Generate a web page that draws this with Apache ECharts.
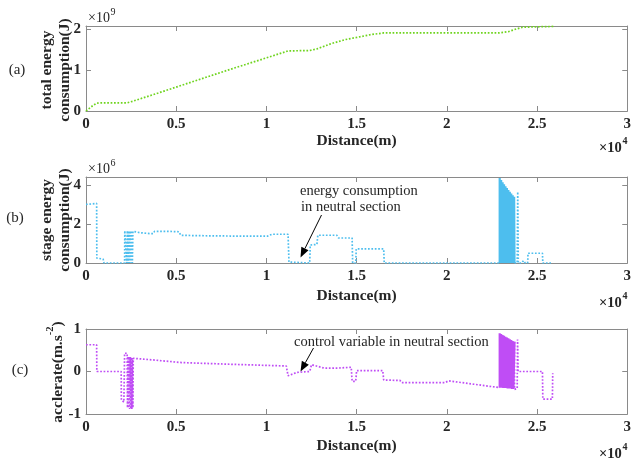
<!DOCTYPE html>
<html><head><meta charset="utf-8">
<script src="https://cdn.jsdelivr.net/npm/echarts@6/dist/echarts.min.js"></script>
<style>html,body{margin:0;padding:0;background:#fff}#c{width:634px;height:461px}</style>
</head><body><div id="c"></div>
<script>
// ---------------- DATA ----------------
const xTickLabels = ['0', '0.5', '1', '1.5', '2', '2.5', '3']; // ×10^4 m

// (a) total energy consumption, [distance m, energy ×10^9 J]
const totalEnergy = [
  [0,0],[200,0.07],[400,0.14],[590,0.19],[800,0.2],[2300,0.2],[2600,0.24],[4000,0.44],
  [6000,0.73],[8000,1.02],[10000,1.3],[11200,1.47],[12400,1.48],[12800,1.52],[13600,1.65],
  [14400,1.75],[15000,1.8],[15800,1.87],[16500,1.91],[22900,1.91],[23400,1.94],[23800,2.0],
  [24200,2.05],[25000,2.06],[25900,2.07]
];

// (b) stage energy consumption, [distance m, energy ×10^6 J]
const stageBefore = [
  [0,3.0],[300,3.02],[590,3.05],[600,0.25],[950,0.2],[1000,0],[2140,0],[2150,1.65],[2240,1.7],
  [2250,0],[2290,1.65],[2330,0],[2370,1.65],[2410,0],[2450,1.65],[2490,0],[2530,1.65],[2570,0],
  [2600,1.62],[2650,1.58],[3000,1.55],[3600,1.5],[3720,1.5],[3800,1.62],[4500,1.62],[5150,1.6],
  [5250,1.42],[6000,1.4],[8000,1.38],[10050,1.37],[10300,1.47],[11200,1.47],[11250,0.05],
  [11350,0],[12400,0],[12430,0.92],[12800,0.95],[12850,1.42],[13900,1.42],[14000,1.28],
  [14750,1.28],[14780,0],[14950,0],[14980,0.72],[16500,0.72],[16530,0],[22930,0]
];
// rapidly switching section: each sample goes between 0 and this top value
const stageDenseTop = [
  [22930,4.35],[22970,4.3],[23010,4.24],[23050,4.18],[23090,4.13],[23130,4.08],[23170,4.03],
  [23210,3.98],[23250,3.93],[23290,3.88],[23330,3.84],[23370,3.79],[23410,3.74],[23450,3.7],
  [23490,3.65],[23530,3.6],[23570,3.56],[23610,3.51],[23650,3.47],[23690,3.43],[23730,3.39],[23750,3.38]
];
const stageAfter = [
  [23750,0],[23900,0],[23930,3.64],[23960,0],[24150,0],[24250,0.12],[24350,0],[24480,0],
  [24500,0.5],[25300,0.5],[25320,0],[25860,0]
];

// (c) acceleration, [distance m, m/s^2]
const accBefore = [
  [0,0.63],[590,0.63],[600,0],[1950,0],[1960,-0.67],[2100,-0.72],[2140,0.43],[2280,0.43],
  [2300,-0.85],[2330,0.35],[2360,-0.86],[2390,0.35],[2420,-0.88],[2450,0.34],[2480,-0.88],
  [2510,0.33],[2540,-0.88],[2570,0.32],[2600,-0.85],[2620,0.31],[2700,0.31],[3500,0.28],
  [5300,0.21],[8000,0.17],[11100,0.13],[11200,-0.1],[11700,-0.02],[11800,0],[12400,0],
  [12500,0.16],[13200,0.08],[13950,0.08],[14050,0.1],[14700,0.1],[14750,-0.23],[14950,-0.23],
  [15000,0.02],[16450,0.02],[16500,-0.2],[17400,-0.21],[17500,-0.26],[19900,-0.26],
  [20100,-0.22],[22930,-0.38]
];
// rapidly switching section: [distance, upper value, lower value]
const accDense = [
  [22930,0.9,-0.38],[22970,0.89,-0.38],[23010,0.88,-0.38],[23050,0.87,-0.38],[23090,0.86,-0.39],
  [23130,0.85,-0.39],[23170,0.84,-0.39],[23210,0.83,-0.39],[23250,0.82,-0.39],[23290,0.81,-0.39],
  [23330,0.8,-0.4],[23370,0.79,-0.4],[23410,0.78,-0.4],[23450,0.77,-0.4],[23490,0.76,-0.4],
  [23530,0.75,-0.4],[23570,0.74,-0.41],[23610,0.73,-0.41],[23650,0.72,-0.41],[23690,0.71,-0.41],
  [23750,0.7,-0.41]
];
const accAfter = [
  [23750,0.7],[23750,-0.42],[23900,-0.4],[23920,0.75],[23950,0],[25300,0],[25320,-0.65],[25850,-0.65],[25870,-0.04]
];

// ---------------- BUILD ----------------
const stageZig = [];
stageDenseTop.forEach((p, i) => {
  if (i % 2 === 0) { stageZig.push([p[0], 0], [p[0], p[1]]); }
  else { stageZig.push([p[0], p[1]], [p[0], 0]); }
});
const accZig = [];
accDense.forEach((p, i) => {
  if (i % 2 === 0) { accZig.push([p[0], p[2]], [p[0], p[1]]); }
  else { accZig.push([p[0], p[1]], [p[0], p[2]]); }
});

const SERIF = '"Liberation Serif","Times New Roman",serif';
const axisColor = '#8a8a8a';
const txtColor = '#262626';
const GREEN = '#6fd41f', BLUE = '#4dbeee', PURPLE = '#bf4df5';

const grids = [{top: 26, h: 85}, {top: 177, h: 86}, {top: 329, h: 85}];
const yCfg = [{min: 0, max: 2.08, interval: 1}, {min: 0, max: 4.4, interval: 2}, {min: -1, max: 1, interval: 1}];
const xNameGap = [22, 25, 24];

const xAxes = [], yAxes = [];
grids.forEach((g, i) => {
  xAxes.push({
    gridIndex: i, type: 'value', position: 'bottom', min: 0, max: 30000, interval: 5000,
    axisLine: {show: true, onZero: false, lineStyle: {color: axisColor, width: 1}},
    axisTick: {show: true, inside: true, length: 5, lineStyle: {color: axisColor}},
    axisLabel: {formatter: v => xTickLabels[Math.round(v / 5000)], fontFamily: SERIF, fontWeight: 'bold', fontSize: 15, color: txtColor, margin: 6},
    splitLine: {show: false},
    name: 'Distance(m)', nameLocation: 'middle', nameGap: xNameGap[i],
    nameTextStyle: {fontFamily: SERIF, fontWeight: 'bold', fontSize: 15.5, color: txtColor}
  });
  xAxes.push({
    gridIndex: i, type: 'value', position: 'top', min: 0, max: 30000, interval: 5000,
    axisLine: {show: true, onZero: false, lineStyle: {color: axisColor, width: 1}},
    axisTick: {show: true, inside: true, length: 5, lineStyle: {color: axisColor}},
    axisLabel: {show: false}, splitLine: {show: false}
  });
  const yc = yCfg[i];
  yAxes.push({
    gridIndex: i, type: 'value', position: 'left', min: yc.min, max: yc.max, interval: yc.interval,
    axisLine: {show: true, onZero: false, lineStyle: {color: axisColor, width: 1}},
    axisTick: {show: true, inside: true, length: 5, lineStyle: {color: axisColor}},
    axisLabel: {formatter: v => (Math.abs(v - Math.round(v)) < 1e-9 ? String(Math.round(v)) : ''), fontFamily: SERIF, fontWeight: 'bold', fontSize: 15, color: txtColor, margin: 5},
    splitLine: {show: false}
  });
  yAxes.push({
    gridIndex: i, type: 'value', position: 'right', min: yc.min, max: yc.max, interval: yc.interval,
    axisLine: {show: true, onZero: false, lineStyle: {color: axisColor, width: 1}},
    axisTick: {show: true, inside: true, length: 5, lineStyle: {color: axisColor}},
    axisLabel: {show: false}, splitLine: {show: false}
  });
});

function lineSeries(i, data, color, solid) {
  return {
    type: 'line', xAxisIndex: 2 * i, yAxisIndex: 2 * i, data: data, showSymbol: false, symbol: 'none',
    silent: true, clip: true, animation: false,
    lineStyle: solid ? {color: color, width: 2.2, type: 'solid'} : {color: color, width: 1.7, type: 'dotted'}
  };
}

function txt(x, y, text, opt) {
  return {
    type: 'text', x: x, y: y, silent: true,
    style: Object.assign({text: text, fill: txtColor, fontFamily: SERIF, fontSize: 14, align: 'left', verticalAlign: 'middle'}, opt || {})
  };
}
function arrow(x1, y1, x2, y2) {
  const dx = x2 - x1, dy = y2 - y1, L = Math.hypot(dx, dy), ux = dx / L, uy = dy / L;
  const hl = 10, hw = 4;
  const bx = x2 - ux * hl, by = y2 - uy * hl;
  return [
    {type: 'line', silent: true, shape: {x1: x1, y1: y1, x2: bx, y2: by}, style: {stroke: '#000', lineWidth: 1}},
    {type: 'polygon', silent: true, shape: {points: [[x2, y2], [bx - uy * hw, by + ux * hw], [bx + uy * hw, by - ux * hw]]}, style: {fill: '#000'}}
  ];
}

const graphics = [
  txt(17, 70, '(a)', {align: 'center', fontSize: 15}),
  txt(15, 218, '(b)', {align: 'center', fontSize: 15}),
  txt(20, 370, '(c)', {align: 'center', fontSize: 15}),
  Object.assign(txt(56, 70, 'total energy\nconsumption(J)', {align: 'center', fontWeight: 'bold', fontSize: 15.5, lineHeight: 18.5}), {rotation: Math.PI / 2}),
  Object.assign(txt(56, 220, 'stage energy\nconsumption(J)', {align: 'center', fontWeight: 'bold', fontSize: 15.5, lineHeight: 18.5}), {rotation: Math.PI / 2}),
  Object.assign(txt(55, 372, '{m|acclerate(m.s}{s|-2}{m|)}', {
    align: 'center',
    rich: {
      m: {fontFamily: SERIF, fontWeight: 'bold', fontSize: 15.5, lineHeight: 21, verticalAlign: 'bottom', fill: txtColor},
      s: {fontFamily: SERIF, fontWeight: 'bold', fontSize: 10.5, lineHeight: 9, verticalAlign: 'top', fill: txtColor}
    }
  }), {rotation: Math.PI / 2}),
  // exponent labels
  txt(88, 18, '×10'), txt(110.5, 12, '9', {fontSize: 10}),
  txt(88, 169, '×10'), txt(110.5, 163, '6', {fontSize: 10}),
  txt(599, 148, '×10', {fontWeight: 'bold', fontSize: 14.5}), txt(622.5, 141, '4', {fontSize: 10, fontWeight: 'bold'}),
  txt(599, 303, '×10', {fontWeight: 'bold', fontSize: 14.5}), txt(622.5, 296, '4', {fontSize: 10, fontWeight: 'bold'}),
  txt(599, 454, '×10', {fontWeight: 'bold', fontSize: 14.5}), txt(622.5, 447, '4', {fontSize: 10, fontWeight: 'bold'}),
  // annotations
  txt(300, 191, 'energy consumption', {fontSize: 14.5}),
  txt(301, 207, 'in neutral section', {fontSize: 14.5}),
  txt(294, 342, 'control variable in neutral section', {fontSize: 14.5})
].concat(arrow(321.5, 215, 300.5, 257.5), arrow(313.5, 348, 300.5, 371.5));

const option = {
  animation: false,
  backgroundColor: '#fff',
  grid: grids.map(g => ({left: 86, top: g.top, width: 545, height: g.h, containLabel: false})),
  xAxis: xAxes,
  yAxis: yAxes,
  series: [
    lineSeries(0, totalEnergy, GREEN),
    lineSeries(1, stageBefore, BLUE),
    lineSeries(1, stageZig, BLUE, true),
    lineSeries(1, stageAfter, BLUE),
    lineSeries(2, accBefore, PURPLE),
    lineSeries(2, accZig, PURPLE, true),
    lineSeries(2, accAfter, PURPLE)
  ],
  graphic: graphics
};
const chart = echarts.init(document.getElementById('c'), null, {renderer: 'canvas'});
chart.setOption(option);
</script></body></html>
